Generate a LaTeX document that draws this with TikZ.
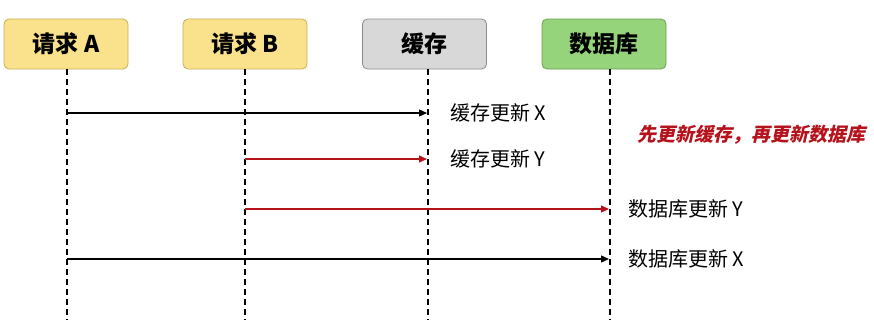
\documentclass[tikz,border=0pt]{standalone}
\usepackage{fontspec}
\setmainfont{Noto Sans CJK SC}
\newfontfamily\slantfont{Noto Sans CJK SC}[FakeSlant=0.22]
\usetikzlibrary{arrows.meta}
\definecolor{yfill}{HTML}{FAE28C}
\definecolor{ydraw}{HTML}{C9AE55}
\definecolor{gfill}{HTML}{D8D8D8}
\definecolor{gdraw}{HTML}{8C8C8C}
\definecolor{grfill}{HTML}{96D47C}
\definecolor{grdraw}{HTML}{6A9E55}
\definecolor{myred}{HTML}{B5121B}
\tikzset{
  actor/.style={draw, rounded corners=5pt, minimum width=124pt, minimum height=50pt, line width=0.8pt, font=\fontsize{23}{25}\selectfont\bfseries, inner sep=0pt},
  lifeline/.style={line width=1.1pt, dash pattern=on 6pt off 4pt},
  msg/.style={line width=1.3pt, -{Triangle[length=8pt,width=7pt]}},
  redmsg/.style={msg, myred},
  lbl/.style={anchor=west, font=\fontsize{20}{22}\selectfont, inner sep=0pt}
}
\begin{document}
\begin{tikzpicture}[x=1pt,y=-1pt]
\useasboundingbox (0,0) rectangle (874,324);
\node[actor, fill=yfill, draw=ydraw] (A) at (66,44) {请求 A};
\node[actor, fill=yfill, draw=ydraw] (B) at (245,44) {请求 B};
\node[actor, fill=gfill, draw=gdraw] (C) at (424.5,44) {缓存};
\node[actor, fill=grfill, draw=grdraw] (D) at (604,44) {数据库};
% lifelines
\coordinate (Atop) at (67,69); \coordinate (Abot) at (67,320);
\coordinate (Btop) at (245,69); \coordinate (Bbot) at (245,320);
\coordinate (Ctop) at (428,69); \coordinate (Cbot) at (428,320);
\coordinate (Dtop) at (610,69); \coordinate (Dbot) at (610,320);
\draw[lifeline] (Atop) -- (Abot);
\draw[lifeline] (Btop) -- (Bbot);
\draw[lifeline] (Ctop) -- (Cbot);
\draw[lifeline] (Dtop) -- (Dbot);
% messages
\coordinate (a1) at (67,113); \coordinate (c1) at (427,113);
\coordinate (b2) at (245,159); \coordinate (c2) at (427,159);
\coordinate (b3) at (245,209); \coordinate (d3) at (609,209);
\coordinate (a4) at (67,259); \coordinate (d4) at (609,259);
\draw[msg] (a1) -- (c1);
\draw[redmsg] (b2) -- (c2);
\draw[redmsg] (b3) -- (d3);
\draw[msg] (a4) -- (d4);
\node[lbl] (l1) at (450,113) {缓存更新 X};
\node[lbl] (l2) at (450,159) {缓存更新 Y};
\node[lbl] (l3) at (628,209) {数据库更新 Y};
\node[lbl] (l4) at (628,259) {数据库更新 X};
\node[anchor=west, inner sep=0pt, text=myred, font=\fontsize{19}{21}\slantfont\bfseries] (note) at (637,135) {先更新缓存，再更新数据库};
\end{tikzpicture}
\end{document}
